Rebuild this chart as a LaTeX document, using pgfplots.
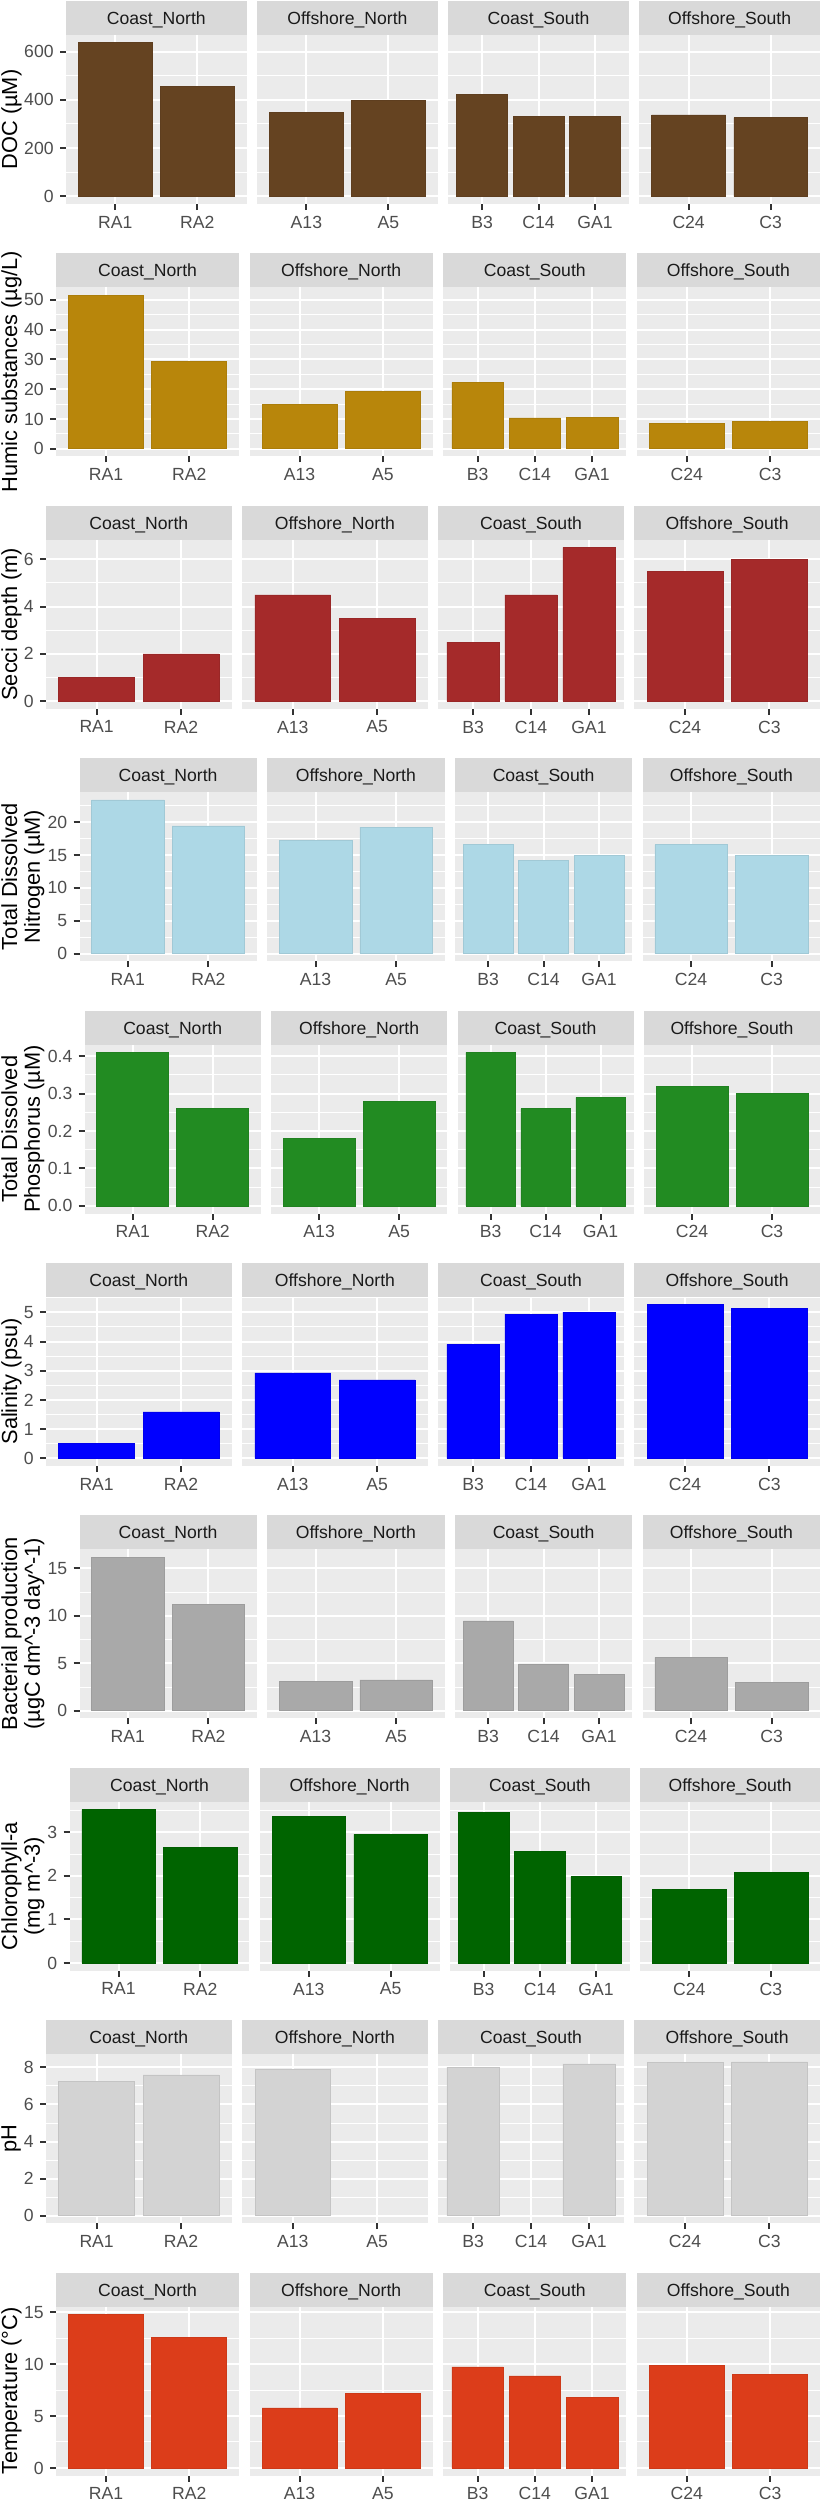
\documentclass[border=0pt]{standalone}
\usepackage{fontspec}
\setmainfont{Liberation Sans}
\usepackage{pgfplots}
\pgfplotsset{compat=1.18}

\definecolor{panelbg}{HTML}{EBEBEB}
\definecolor{stripbg}{HTML}{D9D9D9}
\definecolor{ticktxt}{HTML}{4D4D4D}
\definecolor{tickcol}{HTML}{333333}
\definecolor{striptxt}{HTML}{1A1A1A}

\definecolor{cDOC}{HTML}{654321}
\definecolor{cHum}{HTML}{B8860B}
\definecolor{cSec}{HTML}{A52A2A}
\definecolor{cTDN}{HTML}{ADD8E6}
\definecolor{cTDP}{HTML}{228B22}
\definecolor{cSal}{HTML}{0000FF}
\definecolor{cBP}{HTML}{A9A9A9}
\definecolor{cChl}{HTML}{006400}
\definecolor{cPH}{HTML}{D3D3D3}
\definecolor{cTmp}{HTML}{DC3D1A}

\newcommand\tickfont{\fontsize{8.8}{9.2}\selectfont}
\newcommand\titlefont{\fontsize{10.9}{11.4}\selectfont}

\pgfplotsset{
  facet/.style={
    scale only axis, height=84.5pt, anchor=south west,
    xmin=0.4, enlargelimits=false,
    axis line style={draw=none},
    axis background/.style={fill=panelbg},
    grid=both,
    major grid style={white, line width=1pt},
    minor grid style={white, line width=0.5pt},
    xtick pos=bottom, ytick pos=left,
    tick align=outside, major tick length=3pt, minor tick length=0pt,
    tick style={tickcol, line width=1pt},
    tick label style={font=\tickfont, color=ticktxt},
    /pgf/number format/assume math mode=true,
    yticklabel style={anchor=east, inner sep=0pt, xshift=-3pt},
    xticklabel style={anchor=north, inner sep=0pt, yshift=-2.8pt},
    ybar, bar width=0.9,
  },
}

% one row of facets: index, left edge (pt), ymin, ymax, ticks, minor ticks, colour, title
\newcommand\setrow[8]{%
  \pgfmathsetmacro\rowT{-(0.5+126.2*#1)}%
  \def\rowL{#2}%
  \pgfmathsetmacro\fcW{(410-#2-15.75)/4}%
  \pgfplotsset{rowaxis/.style={ymin=#3, ymax=#4, ytick={#5}, minor ytick={#6}}}%
  \colorlet{barcol}{#7}%
  \pgfmathsetmacro\fcY{\rowT-17-42.25}%
  \node[rotate=90, anchor=north, align=center, font=\titlefont, inner sep=0pt]
    at (0.5pt,\fcY pt) {#8};%
}

% one facet: column, number of stations, station names, bars, strip text
\newcommand\facet[5]{%
  \pgfmathsetmacro\fcL{\rowL+#1*(\fcW+5.25)}%
  \pgfmathsetmacro\fcB{\rowT-101.5}%
  \pgfmathsetmacro\fcC{\fcL+\fcW/2}%
  \pgfmathsetmacro\fcS{\rowT-11.7}%
  \fill[stripbg] (\fcL pt,\rowT pt) rectangle ++(\fcW pt,-17pt);
  \node[anchor=base, font=\tickfont, text=striptxt, inner sep=0pt] at (\fcC pt,\fcS pt) {#5};
  \ifnum#1>0 \pgfplotsset{inner/.style={yticklabels={}, ytick style={draw=none}}}%
  \else \pgfplotsset{inner/.style={}}\fi
  \begin{axis}[facet, rowaxis, inner, at={(\fcL pt,\fcB pt)}, width=\fcW pt,
      xmax=#2.6, xtick={1,...,#2}, xticklabels={#3}]
    \addplot[fill=barcol, draw=barcol!93!black, line width=0.25pt] coordinates {#4};
  \end{axis}
}

\newcommand\allfacets[4]{%
  \facet{0}{2}{RA1,RA2}{#1}{Coast\_North}
  \facet{1}{2}{A13,A5}{#2}{Offshore\_North}
  \facet{2}{3}{B3,C14,GA1}{#3}{Coast\_South}
  \facet{3}{2}{C24,C3}{#4}{Offshore\_South}
}

\begin{document}
\begin{tikzpicture}
\useasboundingbox (0,0) rectangle (410pt,-1250pt);

\setrow{0}{33}{-31.85}{668.85}{0,200,400,600}{100,300,500}{cDOC}{DOC (µM)}
\allfacets{(1,637) (2,457)}{(1,348) (2,399)}{(1,423) (2,333) (3,330)}{(1,338) (2,326)}

\setrow{1}{28}{-2.58}{54.18}{0,10,20,30,40,50}{5,15,25,35,45}{cHum}{Humic substances (µg/L)}
\allfacets{(1,51.6) (2,29.3)}{(1,14.9) (2,19.2)}{(1,22.3) (2,10.4) (3,10.6)}{(1,8.6) (2,9.2)}

\setrow{2}{23}{-0.325}{6.825}{0,2,4,6}{1,3,5}{cSec}{Secci depth (m)}
\allfacets{(1,1.0) (2,2.0)}{(1,4.5) (2,3.5)}{(1,2.5) (2,4.5) (3,6.5)}{(1,5.5) (2,6.0)}

\setrow{3}{39.75}{-1.17}{24.57}{0,5,10,15,20}{2.5,7.5,12.5,17.5,22.5}{cTDN}{Total Dissolved\\Nitrogen (µM)}
\allfacets{(1,23.4) (2,19.45)}{(1,17.2) (2,19.25)}{(1,16.6) (2,14.2) (3,14.96)}{(1,16.6) (2,15.0)}

\setrow{4}{42.35}{-0.0205}{0.4305}{0,0.1,0.2,0.3,0.4}{0.05,0.15,0.25,0.35}{cTDP}{Total Dissolved\\Phosphorus (µM)}
\pgfplotsset{rowaxis/.append style={yticklabel style={/pgf/number format/.cd, fixed, fixed zerofill, precision=1}}}
\allfacets{(1,0.41) (2,0.26)}{(1,0.18) (2,0.28)}{(1,0.41) (2,0.26) (3,0.29)}{(1,0.32) (2,0.30)}

\setrow{5}{23}{-0.263}{5.523}{0,1,2,3,4,5}{0.5,1.5,2.5,3.5,4.5,5.5}{cSal}{Salinity (psu)}
\allfacets{(1,0.52) (2,1.59)}{(1,2.93) (2,2.69)}{(1,3.90) (2,4.94) (3,5.01)}{(1,5.26) (2,5.14)}

\setrow{6}{39.75}{-0.81}{17.01}{0,5,10,15}{2.5,7.5,12.5}{cBP}{Bacterial production\\(µgC dm\textasciicircum-3 day\textasciicircum-1)}
\allfacets{(1,16.2) (2,11.2)}{(1,3.08) (2,3.25)}{(1,9.48) (2,4.93) (3,3.85)}{(1,5.63) (2,3.0)}

\setrow{7}{34.8}{-0.176}{3.696}{0,1,2,3}{0.5,1.5,2.5,3.5}{cChl}{Chlorophyll-a\\(mg m\textasciicircum-3)}
\allfacets{(1,3.52) (2,2.65)}{(1,3.36) (2,2.95)}{(1,3.45) (2,2.56) (3,1.98)}{(1,1.69) (2,2.08)}

\setrow{8}{23}{-0.415}{8.715}{0,2,4,6,8}{1,3,5,7}{cPH}{pH}
\allfacets{(1,7.25) (2,7.6)}{(1,7.91)}{(1,8.02) (3,8.2)}{(1,8.29) (2,8.3)}

\setrow{9}{28}{-0.74}{15.54}{0,5,10,15}{2.5,7.5,12.5}{cTmp}{Temperature (°C)}
\allfacets{(1,14.8) (2,12.6)}{(1,5.78) (2,7.22)}{(1,9.74) (2,8.88) (3,6.77)}{(1,9.9) (2,9.0)}

\end{tikzpicture}
\end{document}
